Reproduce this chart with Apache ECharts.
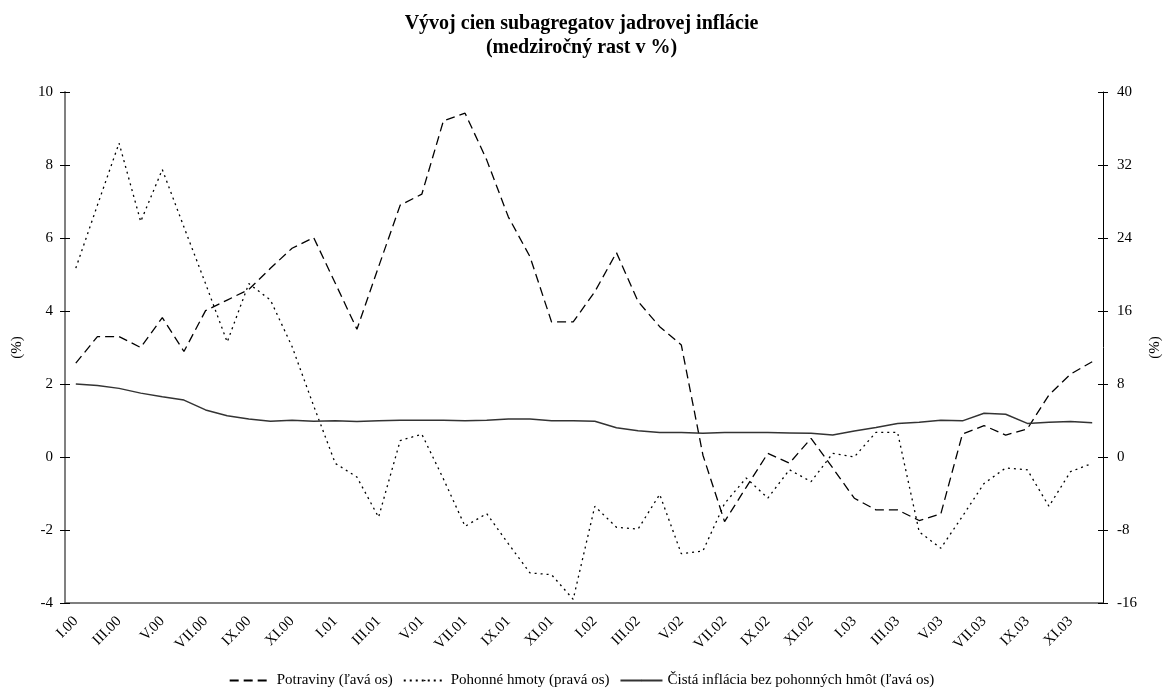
<!DOCTYPE html>
<html>
<head>
<meta charset="utf-8">
<script src="https://cdn.jsdelivr.net/npm/echarts@6/dist/echarts.min.js"></script>
<style>
html, body { margin: 0; padding: 0; background: #fff; }
#chart { width: 1163px; height: 697px; }
</style>
</head>
<body>
<div id="chart"></div>
<script>
var months = ['I', 'II', 'III', 'IV', 'V', 'VI', 'VII', 'VIII', 'IX', 'X', 'XI', 'XII'];
var years = ['00', '01', '02', '03'];

var potraviny = [
    2.57, 3.30, 3.30, 3.00, 3.82, 2.89, 4.01, 4.30, 4.59, 5.17, 5.72, 6.01,
    4.76, 3.50, 5.21, 6.90, 7.20, 9.21, 9.42, 8.14, 6.58, 5.49, 3.70, 3.70,
    4.53, 5.60, 4.26, 3.57, 3.07, 0.05, -1.77, -0.83, 0.10, -0.17, 0.51, -0.30,
    -1.13, -1.45, -1.45, -1.74, -1.56, 0.63, 0.86, 0.60, 0.77, 1.70, 2.27, 2.61
];
var pohonneHmoty = [
    20.7, 27.6, 34.4, 25.8, 31.5, 25.2, 19.0, 12.6, 19.0, 17.2, 12.1, 5.6,
    -0.7, -2.2, -6.6, 1.8, 2.5, -2.4, -7.6, -6.2, -9.5, -12.7, -12.9, -15.6,
    -5.4, -7.7, -7.9, -4.1, -10.6, -10.3, -5.1, -2.3, -4.5, -1.4, -2.7, 0.4,
    0.0, 2.7, 2.7, -8.2, -10.0, -6.5, -2.9, -1.2, -1.4, -5.4, -1.6, -0.7
];
var cistaInflacia = [
    2.00, 1.96, 1.88, 1.75, 1.65, 1.56, 1.29, 1.13, 1.04, 0.98, 1.01, 0.98,
    0.99, 0.97, 0.99, 1.01, 1.01, 1.01, 0.99, 1.01, 1.04, 1.04, 0.99, 0.99,
    0.98, 0.80, 0.72, 0.67, 0.67, 0.65, 0.67, 0.67, 0.67, 0.66, 0.65, 0.60,
    0.71, 0.81, 0.92, 0.95, 1.01, 0.99, 1.20, 1.17, 0.92, 0.95, 0.97, 0.94
];

var categories = [];
years.forEach(function (y) {
    months.forEach(function (m) { categories.push(m + '.' + y); });
});

var font = 'Liberation Serif';
var myChart = echarts.init(document.getElementById('chart'));

var option = {
    animation: false,
    textStyle: { fontFamily: font, color: '#000' },
    title: {
        text: 'Vývoj cien subagregatov jadrovej inflácie\n(medziročný rast v %)',
        left: 'center',
        top: 7,
        textStyle: {
            fontFamily: font,
            fontSize: 20,
            fontWeight: 'bold',
            lineHeight: 24,
            color: '#000'
        }
    },
    grid: { left: 65, right: 60, top: 92, bottom: 94, containLabel: false, outerBoundsMode: 'none' },
    legend: {
        bottom: 4,
        left: 'center',
        itemWidth: 42,
        itemHeight: 2,
        itemGap: 10,
        textStyle: { fontFamily: font, fontSize: 15, color: '#000' },
        data: ['Potraviny (ľavá os)', 'Pohonné hmoty (pravá os)', 'Čistá inflácia bez pohonných hmôt (ľavá os)']
    },
    xAxis: [{
        type: 'category',
        data: categories,
        boundaryGap: true,
        axisLine: { onZero: false, lineStyle: { color: '#555', width: 1.5 } },
        axisTick: { interval: 0, length: 5, lineStyle: { color: '#000' } },
        axisLabel: {
            interval: 1,
            rotate: 45,
            fontFamily: font,
            fontSize: 15,
            color: '#000',
            margin: 16
        },
        splitLine: { show: false }
    }, {
        type: 'category',
        data: categories,
        position: 'bottom',
        boundaryGap: true,
        axisLine: { show: false, onZero: false },
        axisTick: { interval: 0, inside: true, length: 5, lineStyle: { color: '#000' } },
        axisLabel: { show: false },
        splitLine: { show: false }
    }],
    yAxis: [{
        type: 'value',
        min: -4,
        max: 10,
        interval: 2,
        name: '(%)',
        nameLocation: 'middle',
        nameGap: 40,
        nameTextStyle: { fontFamily: font, fontSize: 15, color: '#000' },
        axisLine: { show: true, lineStyle: { color: '#808080', width: 2 } },
        axisTick: { show: true, length: 5, lineStyle: { color: '#000' } },
        axisLabel: { fontFamily: font, fontSize: 15, color: '#000', margin: 12 },
        splitLine: { show: false }
    }, {
        type: 'value',
        min: -16,
        max: 40,
        interval: 8,
        position: 'right',
        name: '(%)',
        nameLocation: 'middle',
        nameGap: 40,
        nameRotate: 90,
        nameTextStyle: { fontFamily: font, fontSize: 15, color: '#000' },
        axisLine: { show: true, lineStyle: { color: '#000', width: 1 } },
        axisTick: { show: true, length: 5, lineStyle: { color: '#000' } },
        axisLabel: { fontFamily: font, fontSize: 15, color: '#000', margin: 14 },
        splitLine: { show: false }
    }, {
        type: 'value',
        min: -4,
        max: 10,
        interval: 2,
        position: 'left',
        axisLine: { show: false },
        axisTick: { show: true, inside: true, length: 5, lineStyle: { color: '#000' } },
        axisLabel: { show: false },
        splitLine: { show: false }
    }, {
        type: 'value',
        min: -16,
        max: 40,
        interval: 8,
        position: 'right',
        axisLine: { show: false },
        axisTick: { show: true, inside: true, length: 5, lineStyle: { color: '#000' } },
        axisLabel: { show: false },
        splitLine: { show: false }
    }],
    series: [{
        name: 'Potraviny (ľavá os)',
        type: 'line',
        yAxisIndex: 0,
        data: potraviny,
        symbol: 'none',
        lineStyle: { color: '#000', width: 1.3, type: [9, 5] },
        itemStyle: { color: '#000' }
    }, {
        name: 'Pohonné hmoty (pravá os)',
        type: 'line',
        yAxisIndex: 1,
        data: pohonneHmoty,
        symbol: 'none',
        lineStyle: { color: '#000', width: 1.3, type: [2, 4] },
        itemStyle: { color: '#000' }
    }, {
        name: 'Čistá inflácia bez pohonných hmôt (ľavá os)',
        type: 'line',
        yAxisIndex: 0,
        data: cistaInflacia,
        symbol: 'none',
        lineStyle: { color: '#333', width: 1.5 },
        itemStyle: { color: '#333' }
    }]
};

myChart.setOption(option);
</script>
</body>
</html>
